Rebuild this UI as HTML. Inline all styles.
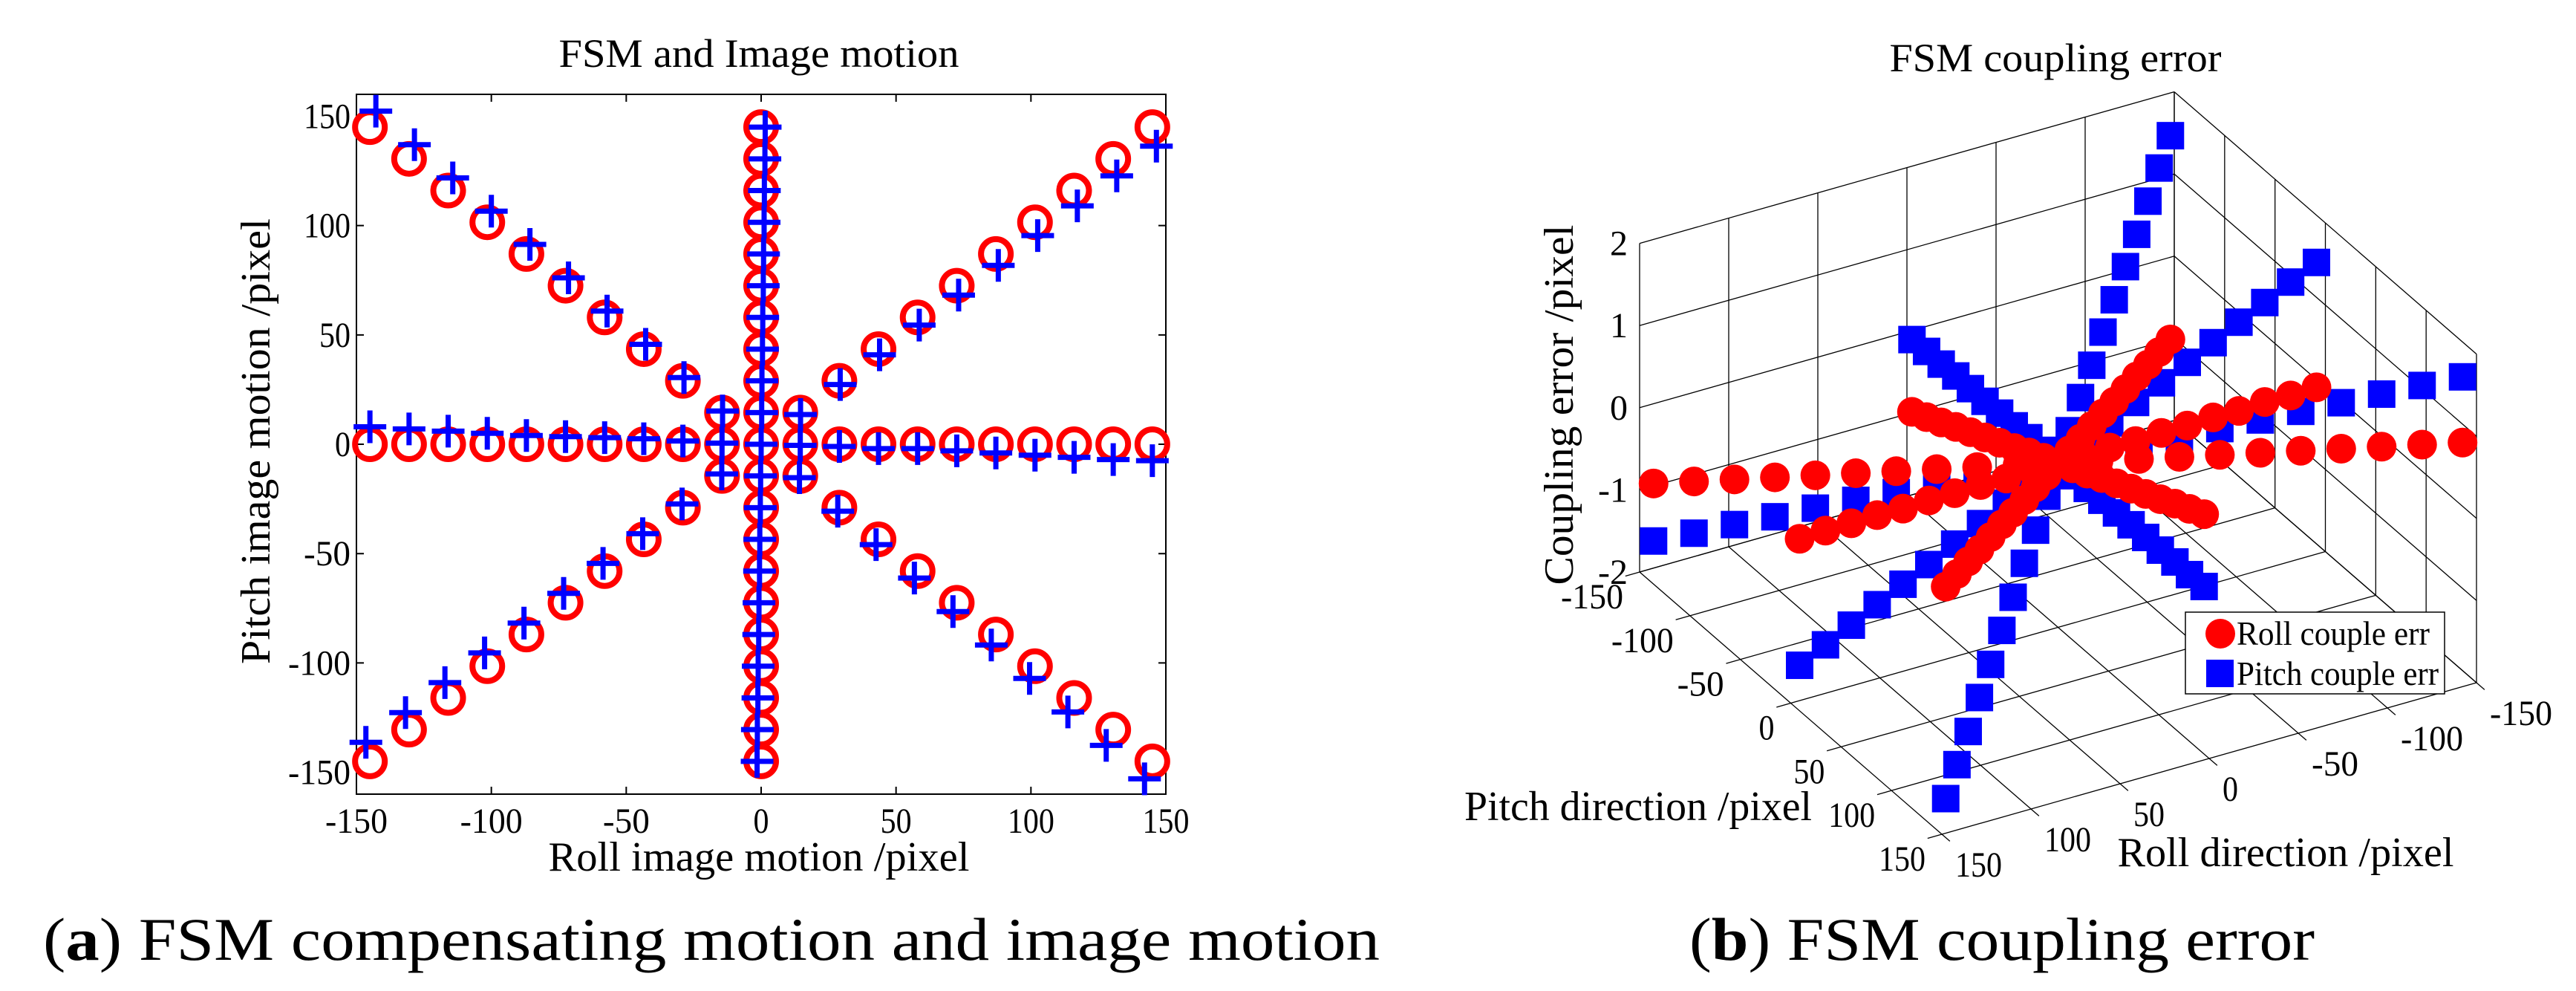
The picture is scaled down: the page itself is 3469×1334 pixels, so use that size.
<!DOCTYPE html>
<html><head><meta charset="utf-8"><title>FSM charts</title>
<style>
html,body{margin:0;padding:0;background:#fff;}
svg{display:block;}
text{font-family:"Liberation Serif",serif;fill:#000;}
</style></head>
<body>
<svg id="fig" xmlns="http://www.w3.org/2000/svg" width="3469" height="1334" viewBox="0 0 3469 1334">
<rect x="0" y="0" width="3469" height="1334" fill="#fff"/>
<g id="left"></g>
<g id="right"></g>
<text x="58" y="1292" font-size="82" textLength="1800" lengthAdjust="spacingAndGlyphs">(<tspan font-weight="bold">a</tspan>) FSM compensating motion and image motion</text>
<text x="2275" y="1292" font-size="82" textLength="842" lengthAdjust="spacingAndGlyphs">(<tspan font-weight="bold">b</tspan>) FSM coupling error</text>
</svg>
<script>
// ---------- Left chart data ----------
const redMag = [14.5,29,43.5,58,72.5,87,101.5,116,130.5,145];
const rayDirX = [1,1,0,-1,-1,-1,0,1];
const rayDirY = [0,1,1,1,0,-1,-1,-1];
const blueX0 = [14.5,29,43.5,58,72.5,87,101.5,116,130.5,145];
const blueY0 = [-0.5,-1,-2,-2,-3,-4,-5,-6,-7,-7.5];
const blueX1 = [14.6,29.3,43.9,58.6,73.2,87.9,102.5,117.2,131.8,146.5];
const blueY1 = [13.6,27.3,40.9,54.5,68.2,81.8,95.4,109,122.7,136.3];
const blueX2 = [0.2,0.3,0.5,0.6,0.8,0.9,1.1,1.2,1.4,1.5];
const blueY2 = [14.5,29,43.5,58,72.5,87,101.5,116,130.5,145];
const blueX3 = [-14.3,-28.6,-42.8,-57.1,-71.4,-85.7,-100,-114.3,-128.5,-142.8];
const blueY3 = [15.2,30.5,45.7,60.9,76.1,91.4,106.6,121.8,137,152.3];
const blueX4 = [-14.5,-29,-43.5,-58,-72.5,-87,-101.5,-116,-130.5,-145];
const blueY4 = [0.5,1.5,2.5,3,3.5,4,5,6,7,8];
const blueX5 = [-14.6,-29.3,-43.9,-58.6,-73.2,-87.9,-102.5,-117.2,-131.8,-146.5];
const blueY5 = [-13.6,-27.3,-40.9,-54.5,-68.2,-81.8,-95.4,-109,-122.7,-136.3];
const blueX6 = [-0.2,-0.3,-0.5,-0.6,-0.8,-0.9,-1.1,-1.2,-1.4,-1.5];
const blueY6 = [-14.5,-29,-43.5,-58,-72.5,-87,-101.5,-116,-130.5,-145];
const blueX7 = [14.2,28.4,42.6,56.8,71.1,85.3,99.5,113.7,127.9,142.1];
const blueY7 = [-15.3,-30.6,-45.9,-61.2,-76.5,-91.8,-107.1,-122.4,-137.7,-153];
const xTicks = [-150,-100,-50,0,50,100,150];
const yTicks = [-150,-100,-50,0,50,100,150];

// ---------- Right chart data ----------
const lineT = [-145,-130.5,-116,-101.5,-87,-72.5,-58,-43.5,-29,-14.5,0,14.5,29,43.5,58,72.5,87,101.5,116,130.5,145];
const linePitchCoef = [1,0,1,1];
const lineRollCoef = [0,1,1,-1];
const redZPitchLine = [-0.92,-0.83,-0.74,-0.64,-0.55,-0.46,-0.37,-0.28,-0.18,-0.09,0,0.09,0.18,0.28,0.37,0.46,0.55,0.64,0.74,0.83,0.92];
const redZRollLine = [0.03,0.02,0.03,0.01,0.02,0.01,0.01,0,0.01,0,0,0,-0.01,0,-0.01,-0.01,-0.02,-0.01,-0.02,-0.02,-0.03];
const redZDiagPP = [-0.93,-0.84,-0.75,-0.65,-0.56,-0.47,-0.37,-0.28,-0.19,-0.09,0,0.09,0.19,0.28,0.37,0.47,0.56,0.65,0.75,0.84,0.93];
const redZDiagPM = [-0.9,-0.81,-0.72,-0.63,-0.54,-0.45,-0.36,-0.27,-0.18,-0.09,0,0.09,0.18,0.27,0.36,0.45,0.54,0.63,0.72,0.81,0.9];
const blueZPitchLine = [-0.04,-0.03,-0.03,-0.02,-0.02,-0.02,-0.01,-0.01,0,0,0,0,0,0.01,0.01,0.02,0.02,0.02,0.03,0.03,0.04];
const blueZRollLine = [1.55,1.4,1.24,1.09,0.93,0.78,0.62,0.47,0.31,0.16,0,-0.16,-0.31,-0.47,-0.63,-0.79,-0.94,-1.1,-1.26,-1.41,-1.57];
const blueZDiagPP = [1.55,1.4,1.24,1.08,0.93,0.77,0.62,0.46,0.31,0.15,0,-0.16,-0.33,-0.49,-0.66,-0.82,-0.99,-1.15,-1.32,-1.48,-1.65];
const blueZDiagPM = [-1.6,-1.44,-1.27,-1.11,-0.94,-0.78,-0.62,-0.46,-0.3,-0.15,0,0.17,0.34,0.51,0.68,0.85,1.02,1.19,1.36,1.53,1.7];
const pdTicks = [-150,-100,-50,0,50,100,150];
const rdTicks = [150,100,50,0,-50,-100,-150];
const zTicks = [-2,-1,0,1,2];

const NS = 'http://www.w3.org/2000/svg';
function mk(parent, tag, attrs, text){
  const e = document.createElementNS(NS, tag);
  for (const k in attrs) e.setAttribute(k, attrs[k]);
  if (text !== undefined) e.textContent = text;
  parent.appendChild(e);
  return e;
}

// ===== Left chart =====
(function(){
  const g = document.getElementById('left');
  const X0=480, X1=1570, Y0=127, Y1=1069;
  const sx = x => X0 + (x+150)*(X1-X0)/300;
  const sy = y => Y0 + (160-y)*(Y1-Y0)/320;
  let t = mk(g,'text',{x:1022,y:90,'font-size':54,'text-anchor':'middle',textLength:539,lengthAdjust:'spacingAndGlyphs'},'FSM and Image motion');
  
  
  const box = mk(g,'rect',{x:X0,y:Y0,width:X1-X0,height:Y1-Y0,fill:'none',stroke:'#000','stroke-width':2});
  
  
  xTicks.forEach(v=>{
    const x = sx(v);
    const tk = mk(g,'path',{d:`M${x},${Y1}v-10M${x},${Y0}v10`,stroke:'#000','stroke-width':2});
    
    
    const lb = mk(g,'text',{x:x,y:1121,'font-size':48,'text-anchor':'middle',textLength:String(v).length*21,lengthAdjust:'spacingAndGlyphs'},String(v));
    
    
  });
  yTicks.forEach(v=>{
    const y = sy(v);
    const tk = mk(g,'path',{d:`M${X0},${y}h10M${X1},${y}h-10`,stroke:'#000','stroke-width':2});
    
    
    const lb = mk(g,'text',{x:472,y:y+16,'font-size':48,'text-anchor':'end',textLength:String(v).length*21,lengthAdjust:'spacingAndGlyphs'},String(v));
    
    
  });
  t = mk(g,'text',{x:1022,y:1172,'font-size':56,'text-anchor':'middle',textLength:567,lengthAdjust:'spacingAndGlyphs'},'Roll image motion /pixel');
  
  
  t = mk(g,'text',{x:0,y:0,'font-size':56,'text-anchor':'middle',transform:'translate(363,594) rotate(-90)',textLength:600,lengthAdjust:'spacingAndGlyphs'},'Pitch image motion /pixel');
  
  

  const red = mk(g,'g',{});
  
  
  const blue = mk(g,'g',{});
  
  
  function circle(x,y){
    const c = mk(red,'circle',{cx:sx(x),cy:sy(y),r:20,fill:'none',stroke:'#ff0000','stroke-width':8});
    
    
  }
  function plus(x,y){
    const px=sx(x), py=sy(y);
    const p = mk(blue,'path',{d:`M${px-22},${py}h44M${px},${py-22}v44`,stroke:'#0000ff','stroke-width':7});
    
    
  }
  circle(0,0);
  for (let r=0;r<8;r++) redMag.forEach(m=>circle(m*rayDirX[r], m*rayDirY[r]));
  const BX=[blueX0,blueX1,blueX2,blueX3,blueX4,blueX5,blueX6,blueX7];
  const BY=[blueY0,blueY1,blueY2,blueY3,blueY4,blueY5,blueY6,blueY7];
  plus(0,0);
  for (let r=0;r<8;r++) BX[r].forEach((x,i)=>plus(x,BY[r][i]));
})();

// ===== Right chart =====
(function(){
  const g = document.getElementById('right');
  const A=[2208,770], BA=[407,353], CB=[720,-204], ZU=110.6;
  function P(p,r,z){
    const a=(p+150)/300, b=(150-r)/300;
    return [A[0]+a*BA[0]+b*CB[0], A[1]+a*BA[1]+b*CB[1]-(z+2)*ZU];
  }
  let t = mk(g,'text',{x:2768,y:96,'font-size':54,'text-anchor':'middle',textLength:447,lengthAdjust:'spacingAndGlyphs'},'FSM coupling error');
  
  
  const grid = mk(g,'g',{stroke:'#000','stroke-width':1.3,fill:'none'});
  
  
  function line(p1,p2,w){
    const l = mk(grid,'line',{x1:p1[0],y1:p1[1],x2:p2[0],y2:p2[1]});
    if (w) l.setAttribute('stroke-width',w);
    
    
  }
  rdTicks.forEach(r=>line(P(-150,r,-2),P(-150,r,2)));
  zTicks.forEach(z=>line(P(-150,150,z),P(-150,-150,z)));
  pdTicks.forEach(p=>line(P(p,-150,-2),P(p,-150,2)));
  zTicks.forEach(z=>line(P(-150,-150,z),P(150,-150,z)));
  pdTicks.forEach(p=>{ const a=P(p,158,-2), b=P(p,-150,-2); line(a,b); });
  rdTicks.forEach(r=>{ const a=P(-150,r,-2), b=P(158,r,-2); line(a,b); });
  zTicks.forEach(z=>{
    const q=P(-150,150,z);
    const lb = mk(g,'text',{x:q[0]-16,y:q[1]+16,'font-size':48,'text-anchor':'end'},String(z));
    
    
  });
  pdTicks.forEach(p=>{
    const q=P(p,150,-2);
    const lb = mk(g,'text',{x:q[0]-22,y:q[1]+49,'font-size':48,'text-anchor':'end',textLength:String(p).length*21,lengthAdjust:'spacingAndGlyphs'},String(p));
    
    
  });
  rdTicks.forEach(r=>{
    const q=P(150,r,-2);
    const lb = mk(g,'text',{x:q[0]+18,y:q[1]+57,'font-size':48,'text-anchor':'start',textLength:String(r).length*21,lengthAdjust:'spacingAndGlyphs'},String(r));
    
    
  });
  t = mk(g,'text',{x:0,y:0,'font-size':56,'text-anchor':'middle',transform:'translate(2118,545) rotate(-90)',textLength:485,lengthAdjust:'spacingAndGlyphs'},'Coupling error /pixel');
  
  
  t = mk(g,'text',{x:2206,y:1104,'font-size':56,'text-anchor':'middle',textLength:468,lengthAdjust:'spacingAndGlyphs'},'Pitch direction /pixel');
  
  
  t = mk(g,'text',{x:3078,y:1166,'font-size':56,'text-anchor':'middle',textLength:453,lengthAdjust:'spacingAndGlyphs'},'Roll direction /pixel');
  
  

  const blueG = mk(g,'g',{fill:'#0000ff'});
  
  
  const redG = mk(g,'g',{fill:'#ff0000'});
  
  
  const blueZ=[blueZPitchLine,blueZRollLine,blueZDiagPP,blueZDiagPM];
  const redZ=[redZPitchLine,redZRollLine,redZDiagPP,redZDiagPM];
  for (let k=0;k<4;k++){
    lineT.forEach((tv,i)=>{
      const q=P(tv*linePitchCoef[k], tv*lineRollCoef[k], blueZ[k][i]);
      const s = mk(blueG,'rect',{x:q[0]-18.5,y:q[1]-18.5,width:37,height:37});
      
      
    });
  }
  for (let k=0;k<4;k++){
    lineT.forEach((tv,i)=>{
      const q=P(tv*linePitchCoef[k], tv*lineRollCoef[k], redZ[k][i]);
      const c = mk(redG,'circle',{cx:q[0],cy:q[1],r:20});
      
      
    });
  }
  const lg = mk(g,'g',{});
  
  
  mk(lg,'rect',{x:2943,y:824,width:349,height:110,fill:'#fff',stroke:'#000','stroke-width':1.5});
  const e1 = mk(lg,'circle',{cx:2990,cy:853,r:20,fill:'#ff0000'});
  
  
  const t1 = mk(lg,'text',{x:3012,y:868,'font-size':46,textLength:260,lengthAdjust:'spacingAndGlyphs'},'Roll couple err');
  
  
  const e2 = mk(lg,'rect',{x:2971,y:888,width:37,height:37,fill:'#0000ff'});
  
  
  const t2 = mk(lg,'text',{x:3012,y:922,'font-size':46,textLength:272,lengthAdjust:'spacingAndGlyphs'},'Pitch couple err');
  
  
})();
</script>
</body></html>
